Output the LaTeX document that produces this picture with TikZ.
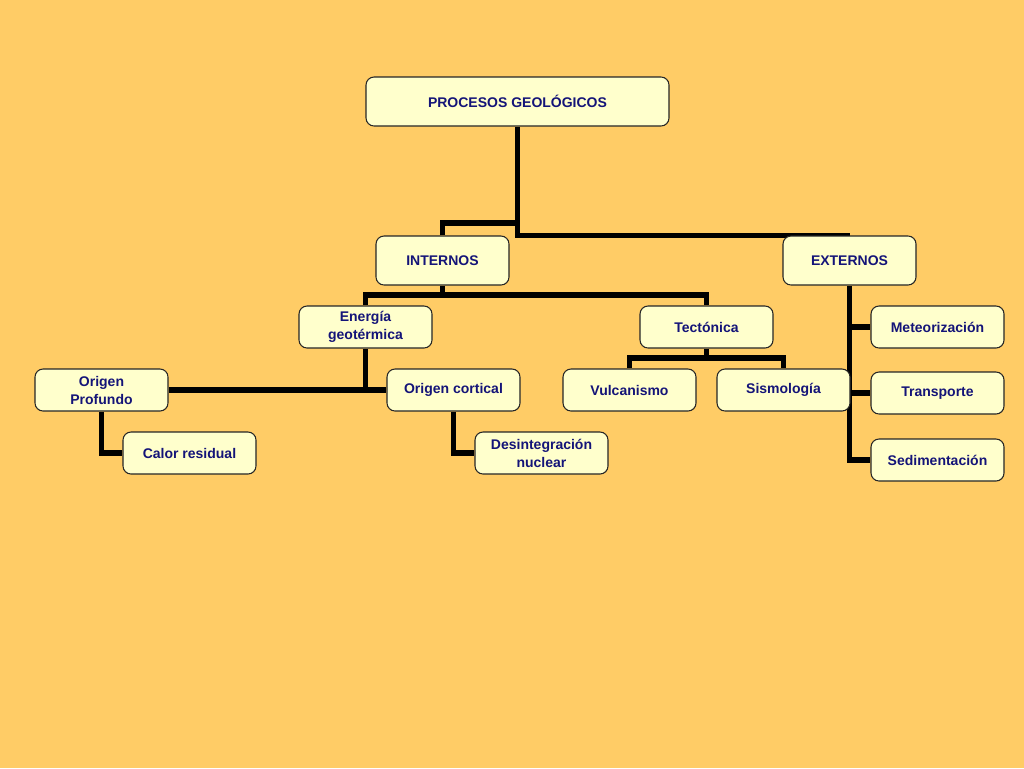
\documentclass[tikz,border=0pt]{standalone}
\usepackage{fontspec}
\setmainfont{Liberation Sans}
\usetikzlibrary{backgrounds}
\definecolor{bgc}{RGB}{255,204,102}
\definecolor{boxc}{RGB}{255,255,204}
\definecolor{txtc}{RGB}{20,20,120}
\tikzset{
  box/.style={draw=black!85, line width=0.8pt, fill=boxc, rounded corners=6pt,
    minimum width=99.75pt, minimum height=31.5pt, inner sep=1pt, align=center,
    text=txtc, font=\fontsize{10.5pt}{13.5pt}\selectfont\bfseries},
  tall/.style={minimum height=36.75pt},
  conn/.style={line width=4.2pt, black, line join=miter}
}
\begin{document}
\begin{tikzpicture}[x=0.75pt,y=-0.75pt]
\useasboundingbox (0,0) rectangle (1024,768);
\node[box,tall,minimum width=227.25pt] (top) at (517.5,101.5) {PROCESOS GEOLÓGICOS};
\node[box,tall] (int) at (442.5,260.5) {INTERNOS};
\node[box,tall] (ext) at (849.5,260.5) {EXTERNOS};
\node[box] (ener) at (365.5,327) {Energía\\geotérmica};
\node[box] (tec) at (706.5,327) {Tectónica};
\node[box] (op) at (101.5,390) {Origen\\Profundo};
\node[box] (oc) at (453.5,390) {Origen cortical};
\node[box] (vul) at (629.5,390) {Vulcanismo};
\node[box] (sis) at (783.5,390) {Sismología};
\node[box] (cr) at (189.5,453) {Calor residual};
\node[box] (dn) at (541.5,453) {Desintegración\\nuclear};
\node[box] (met) at (937.5,327) {Meteorización};
\node[box] (tra) at (937.5,393) {Transporte};
\node[box] (sed) at (937.5,460) {Sedimentación};
\begin{scope}[on background layer]
\fill[bgc] (0,0) rectangle (1024,768);
\draw[conn] (top.south) |- (ext.north);
\draw[conn] (int.north) -- (int.north |- 0,223) -| (top.south);
\draw[conn] (int.south) -- (int.south |- 0,295);
\draw[conn] (ener.north) -- (ener.north |- 0,295) -| (tec.north);
\draw[conn] (ener.south) -- (ener.south |- op.east);
\draw[conn] (op.east) -- (oc.west);
\draw[conn] (op.south) |- (cr.west);
\draw[conn] (oc.south) |- (dn.west);
\draw[conn] (tec.south) -- (tec.south |- 0,358);
\draw[conn] (vul.north) -- (vul.north |- 0,358) -| (sis.north);
\draw[conn] (ext.south) |- (sed.west);
\draw[conn] (ext.south |- met.west) -- (met.west);
\draw[conn] (ext.south |- tra.west) -- (tra.west);
\end{scope}
\end{tikzpicture}
\end{document}
